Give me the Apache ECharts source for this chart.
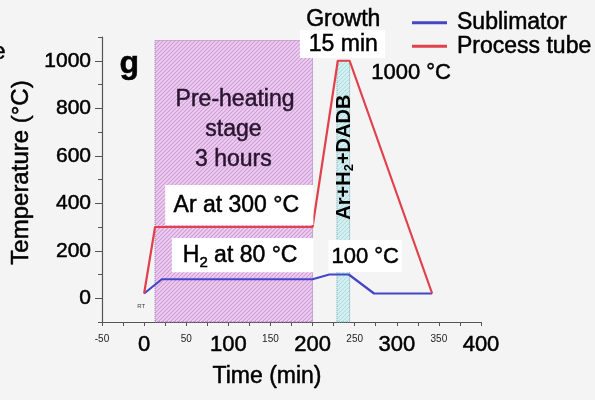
<!DOCTYPE html>
<html><head><meta charset="utf-8">
<script src="https://cdn.jsdelivr.net/npm/echarts@6/dist/echarts.min.js"></script>
<style>html,body{margin:0;padding:0;background:#f4f4f4}#c{width:595px;height:400px}</style>
</head><body><div id="c"></div>
<script>
const tubeTime = [0, 13, 200, 230, 244, 342];
const tubeTemp = [20, 300, 300, 1000, 1000, 20];
const subTime = [0, 21, 200, 220, 243, 273, 342];
const subTemp = [20, 80, 80, 100, 100, 20, 20];
const bigXLabels = [0, 100, 200, 300, 400];
const smallXLabels = [-50, 50, 150, 250, 350];
const yLabels = [0, 200, 400, 600, 800, 1000];
const yMinorTicks = [-100, 100, 300, 500, 700, 900, 1100];
const preheat = [13, 200, -100, 1085];
const growth = [229, 244, -100, 1000];

const FONT = "'Liberation Sans', Arial, sans-serif";
const HEAVY = { textBorderColor: '#000', textBorderWidth: 0.5 };
function hatch(bg, line) {
  const s = 4, c = document.createElement('canvas');
  c.width = s; c.height = s;
  const g = c.getContext('2d');
  g.fillStyle = bg; g.fillRect(0, 0, s, s);
  g.strokeStyle = line; g.lineWidth = 1.1;
  g.beginPath();
  g.moveTo(0, s); g.lineTo(s, 0);
  g.moveTo(-s, s); g.lineTo(s, -s);
  g.moveTo(0, 2 * s); g.lineTo(2 * s, 0);
  g.stroke();
  return c;
}
const pinkPat = { image: hatch('#edd0f0', '#d09bd9'), repeat: 'repeat' };
const cyanPat = { image: hatch('#d9f2f3', '#b0dde2'), repeat: 'repeat' };

const chart = echarts.init(document.getElementById('c'));
chart.setOption({
  backgroundColor: '#f4f4f4',
  animation: false,
  grid: { left: 102, right: 114, top: 37, bottom: 78 },
  legend: {
    data: ['Sublimator', 'Process tube'],
    orient: 'vertical', left: 407, top: 6,
    icon: 'rect', itemWidth: 35, itemHeight: 3, itemGap: 0,
    textStyle: Object.assign({ fontFamily: FONT, fontSize: 23, color: '#000', lineHeight: 20, padding: [0, 0, 0, 5] }, HEAVY)
  },
  xAxis: {
    type: 'value', min: -50, max: 400, interval: 25,
    splitLine: { show: false },
    axisLine: { onZero: false, lineStyle: { color: '#555', width: 1.2 } },
    axisTick: { length: 4, lineStyle: { color: '#555' } },
    axisLabel: {
      margin: 12, color: '#000', fontFamily: FONT,
      formatter: v => bigXLabels.includes(v) ? '{b|' + v + '}' : (smallXLabels.includes(v) ? '{s|' + v + '}' : ''),
      rich: { b: Object.assign({ fontSize: 22, fontFamily: FONT, color: '#000' }, HEAVY), s: { fontSize: 10, fontFamily: FONT, color: '#222' } }
    },
    name: 'Time (min)', nameLocation: 'middle', nameGap: 43,
    nameTextStyle: Object.assign({ fontFamily: FONT, fontSize: 23, color: '#000', padding: [0, 49, 0, 0] }, HEAVY)
  },
  yAxis: [{
    type: 'value', min: -100, max: 1100, interval: 100,
    splitLine: { show: false },
    axisLine: { show: true, onZero: false, lineStyle: { color: '#555', width: 1.2 } },
    axisTick: { show: true, length: 7, customValues: yLabels, lineStyle: { color: '#555' } },
    axisLabel: Object.assign({
      margin: 11, color: '#000', fontFamily: FONT, fontSize: 21,
      formatter: v => yLabels.includes(v) ? String(v) : ''
    }, HEAVY),
    name: 'Temperature (°C)', nameLocation: 'middle', nameGap: 57,
    nameTextStyle: Object.assign({ fontFamily: FONT, fontSize: 24, color: '#000', padding: [0, 0, 0, 14] }, HEAVY)
  }, {
    type: 'value', min: -100, max: 1100, interval: 100, position: 'left',
    splitLine: { show: false }, axisLabel: { show: false },
    axisLine: { show: false, onZero: false },
    axisTick: { show: true, length: 4, customValues: yMinorTicks, lineStyle: { color: '#555' } }
  }],
  series: [
    {
      name: 'Sublimator', type: 'line', symbol: 'none',
      data: subTime.map((t, i) => [t, subTemp[i]]),
      lineStyle: { color: '#4545c8', width: 2.2 }, itemStyle: { color: '#4545c8' }, z: 4
    },
    {
      name: 'Process tube', type: 'line', symbol: 'none',
      data: tubeTime.map((t, i) => [t, tubeTemp[i]]),
      lineStyle: { color: '#e2404a', width: 2.2 }, itemStyle: { color: '#e2404a' }, z: 4,
      markArea: {
        silent: true,
        data: [
          [{ xAxis: preheat[0], yAxis: preheat[2], itemStyle: { color: pinkPat, borderColor: '#a070b0', borderWidth: 1, borderType: 'dotted' } },
           { xAxis: preheat[1], yAxis: preheat[3] }],
          [{ xAxis: growth[0], yAxis: growth[2], itemStyle: { color: cyanPat, borderColor: '#7aa6ae', borderWidth: 1, borderType: 'dotted' } },
           { xAxis: growth[1], yAxis: growth[3] }]
        ]
      }
    }
  ]
});

function P(x, y) { return chart.convertToPixel({ gridIndex: 0 }, [x, y]); }
function box(x0, y0, x1, y1) {
  const a = P(x0, y0), b = P(x1, y1);
  return { type: 'rect', z: 5, silent: true,
    shape: { x: Math.min(a[0], b[0]), y: Math.min(a[1], b[1]), width: Math.abs(b[0] - a[0]), height: Math.abs(b[1] - a[1]) },
    style: { fill: '#ffffff' } };
}
function txt(x, y, text, extra) {
  const p = P(x, y);
  return { type: 'text', z: 6, silent: true, x: p[0], y: p[1],
    style: Object.assign({ text: text, font: '23px ' + FONT, fill: '#000', stroke: '#000', lineWidth: 0.5, align: 'center', verticalAlign: 'middle' }, extra || {}) };
}
const gfx = [];
gfx.push(box(25, 477, 201, 308));
gfx.push(box(33, 254, 201, 110));
gfx.push(box(185, 1130, 286, 1012));
gfx.push(box(219, 245, 306, 111));
gfx.push(txt(108, 835, 'Pre-heating', { fill: '#2a1530', stroke: '#2a1530' }));
gfx.push(txt(106, 709, 'stage', { fill: '#2a1530', stroke: '#2a1530' }));
gfx.push(txt(106, 584, '3 hours', { fill: '#2a1530', stroke: '#2a1530' }));
gfx.push(txt(109.5, 388, 'Ar at 300 °C'));
gfx.push(txt(114, 178, '{n|H}{s|2}{n| at 80 °C}', {
  rich: { n: { font: '23px ' + FONT, fill: '#000', stroke: '#000', lineWidth: 0.5, lineHeight: 28, verticalAlign: 'middle' },
          s: { font: '15px ' + FONT, fill: '#000', stroke: '#000', lineWidth: 0.5, lineHeight: 28, verticalAlign: 'bottom' } } }));
gfx.push(txt(236.5, 1175, 'Growth'));
gfx.push(txt(236.5, 1066, '15 min'));
gfx.push(txt(317, 948, '1000 °C', { font: '22px ' + FONT }));
gfx.push(txt(262.5, 175, '100 °C', { font: '22px ' + FONT }));
gfx.push(txt(-17.7, 986, 'g', { font: 'bold 32px ' + FONT }));
gfx.push(txt(-3.4, -33, 'RT', { font: '6px ' + FONT, fill: '#444', stroke: null, lineWidth: 0 }));
const lp = P(238.5, 594);
gfx.push({ type: 'text', z: 6, silent: true, x: lp[0], y: lp[1], rotation: Math.PI / 2,
  style: { text: '{a|Ar+H}{s|2}{a|+DADB}', align: 'center', verticalAlign: 'middle',
    rich: { a: { font: 'bold 20px ' + FONT, fill: '#000', lineHeight: 22 },
            s: { font: 'bold 13px ' + FONT, fill: '#000', lineHeight: 22, verticalAlign: 'bottom' } } } });
gfx.push({ type: 'text', z: 6, silent: true, left: -8, top: 40, style: { text: 'e', font: '24px ' + FONT, fill: '#000', stroke: '#000', lineWidth: 0.5 } });
chart.setOption({ graphic: gfx });
</script></body></html>
